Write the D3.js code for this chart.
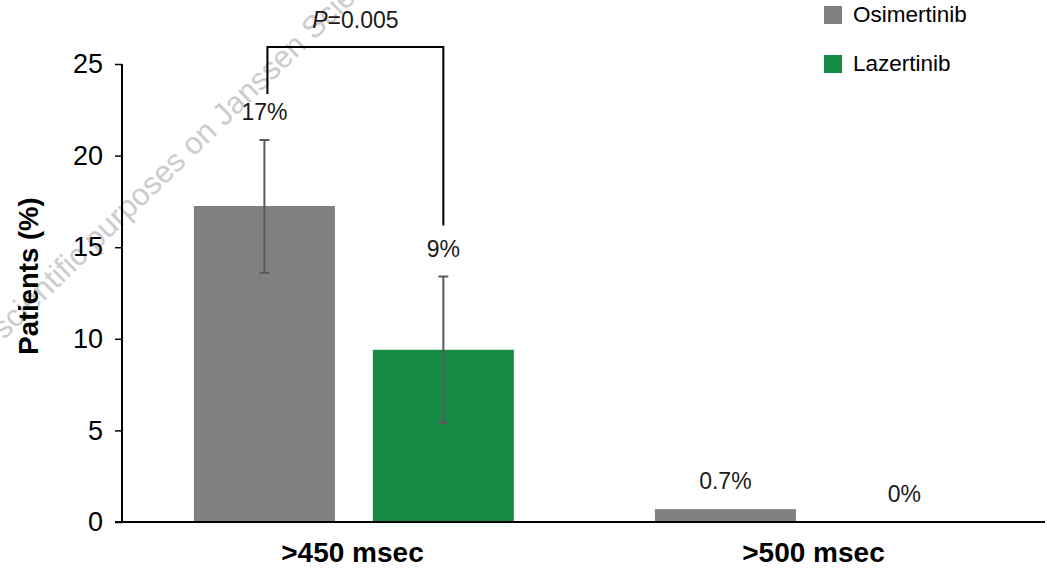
<!DOCTYPE html>
<html>
<head>
<meta charset="utf-8">
<script src="https://cdn.jsdelivr.net/npm/d3@7"></script>
<style>
  html, body { margin: 0; padding: 0; background: #fff; }
  svg { display: block; font-family: "Liberation Sans", Arial, sans-serif; }
</style>
</head>
<body>
<svg id="chart" width="1047" height="569"></svg>
<script>
// QTc prolongation thresholds and treatment arms
const categories = [">450 msec", ">500 msec"];
const series = ["Osimertinib", "Lazertinib"];
const seriesColors = ["#808080", "#168B45"];

// Patients (%) per category, one array per arm
const osimertinibValues = [17.25, 0.7];
const lazertinibValues = [9.4, 0];

// 95% CI bounds (null where no interval is shown)
const osimertinibLow = [13.6, null];
const osimertinibHigh = [20.85, null];
const lazertinibLow = [5.4, null];
const lazertinibHigh = [13.4, null];

// Value labels shown above each bar
const osimertinibLabels = ["17%", "0.7%"];
const lazertinibLabels = ["9%", "0%"];

const yTicks = [0, 5, 10, 15, 20, 25];
const pValueText = "0.005";

const svg = d3.select("#chart");
const W = 1047, H = 569;
const margin = { left: 122, right: 3, top: 64, bottom: 47 };

const x0 = d3.scaleBand().domain(categories).range([margin.left, W - margin.right]);
const x1 = d3.scaleBand().domain(series)
  .range([x0.bandwidth() * 0.156, x0.bandwidth() * 0.850])
  .paddingInner(0.212);
const y = d3.scaleLinear().domain([0, 25]).range([H - margin.bottom, margin.top]);

const rows = [];
categories.forEach((c, i) => {
  rows.push({ cat: c, s: series[0], v: osimertinibValues[i], lo: osimertinibLow[i], hi: osimertinibHigh[i], label: osimertinibLabels[i], color: seriesColors[0] });
  rows.push({ cat: c, s: series[1], v: lazertinibValues[i], lo: lazertinibLow[i], hi: lazertinibHigh[i], label: lazertinibLabels[i], color: seriesColors[1] });
});
const cx = d => x0(d.cat) + x1(d.s) + x1.bandwidth() / 2;

// Faint watermark running diagonally across the upper left
const wmText = "For scientific purposes on Janssen Science";
const wm = svg.append("text")
  .attr("font-size", 31)
  .attr("fill", "#cccccc")
  .text(wmText);
{
  const node = wm.node();
  const idx = wmText.indexOf(" on ") + 1;
  const pre = node.getSubStringLength(0, idx);
  const onW = node.getSubStringLength(idx, 2);
  wm.attr("x", -(pre + onW / 2)).attr("y", 10)
    .attr("transform", "translate(199,138) rotate(-44)");
}

// Bars
svg.append("g").selectAll("rect").data(rows).join("rect")
  .attr("x", d => x0(d.cat) + x1(d.s))
  .attr("width", x1.bandwidth())
  .attr("y", d => y(d.v))
  .attr("height", d => y(0) - y(d.v))
  .attr("fill", d => d.color);

// Error bars
const eb = svg.append("g").attr("stroke", "#5a5a5a").attr("stroke-width", 2);
rows.filter(d => d.lo != null).forEach(d => {
  const x = cx(d);
  eb.append("line").attr("x1", x).attr("x2", x).attr("y1", y(d.lo)).attr("y2", y(d.hi));
  eb.append("line").attr("x1", x - 5).attr("x2", x + 5).attr("y1", y(d.hi)).attr("y2", y(d.hi));
  eb.append("line").attr("x1", x - 5).attr("x2", x + 5).attr("y1", y(d.lo)).attr("y2", y(d.lo));
});

// Value labels
const labelY = d => y(d.hi != null ? d.hi : d.v) - 20;
svg.append("g").selectAll("text").data(rows).join("text")
  .attr("x", cx)
  .attr("y", labelY)
  .attr("text-anchor", "middle")
  .attr("font-size", 23)
  .attr("fill", "#1a1a1a")
  .text(d => d.label);

// Y axis
const yAxis = svg.append("g")
  .attr("transform", `translate(${margin.left},0)`)
  .call(d3.axisLeft(y).tickValues(yTicks).tickSize(7).tickPadding(12).tickSizeOuter(0));
yAxis.select(".domain").attr("stroke", "#000").attr("stroke-width", 2).attr("d", `M0,${y(25)}V${y(0)}`);
yAxis.selectAll(".tick line").attr("stroke", "#000").attr("stroke-width", 1.5);
yAxis.selectAll(".tick text").attr("font-size", 27).attr("fill", "#000")
  .attr("font-family", "\"Liberation Sans\", Arial, sans-serif");

// X axis baseline and category labels
svg.append("line")
  .attr("x1", margin.left - 7).attr("x2", W - 2)
  .attr("y1", y(0)).attr("y2", y(0))
  .attr("stroke", "#000").attr("stroke-width", 2);
svg.append("g").selectAll("text").data(categories).join("text")
  .attr("x", d => x0(d) + x0.bandwidth() / 2)
  .attr("y", H - 7)
  .attr("text-anchor", "middle")
  .attr("font-size", 28)
  .attr("font-weight", "bold")
  .text(d => d);

// Y axis title
svg.append("text")
  .attr("transform", "translate(38,276) rotate(-90)")
  .attr("text-anchor", "middle")
  .attr("font-size", 27.5)
  .attr("font-weight", "bold")
  .text("Patients (%)");

// Significance bracket between the two >450 msec bars
const osi = rows[0], laz = rows[1];
const bx1 = cx(osi) + 3, bx2 = cx(laz);
const bTop = y(25.93);
svg.append("path")
  .attr("d", `M${bx1},${labelY(osi) - 26}V${bTop}H${bx2}V${labelY(laz) - 31}`)
  .attr("fill", "none").attr("stroke", "#000").attr("stroke-width", 2);
const pt = svg.append("text")
  .attr("x", (bx1 + bx2) / 2).attr("y", bTop - 19)
  .attr("text-anchor", "middle").attr("font-size", 23).attr("fill", "#1a1a1a");
pt.append("tspan").attr("font-style", "italic").text("P");
pt.append("tspan").text("=" + pValueText);

// Legend
const lg = svg.append("g").attr("transform", "translate(824,6)");
series.forEach((s, i) => {
  const g = lg.append("g").attr("transform", `translate(0,${i * 49})`);
  g.append("rect").attr("width", 18).attr("height", 18).attr("fill", seriesColors[i]);
  g.append("text").attr("x", 29).attr("y", 16).attr("font-size", 22.5).attr("fill", "#000").text(s);
});
</script>
</body>
</html>
